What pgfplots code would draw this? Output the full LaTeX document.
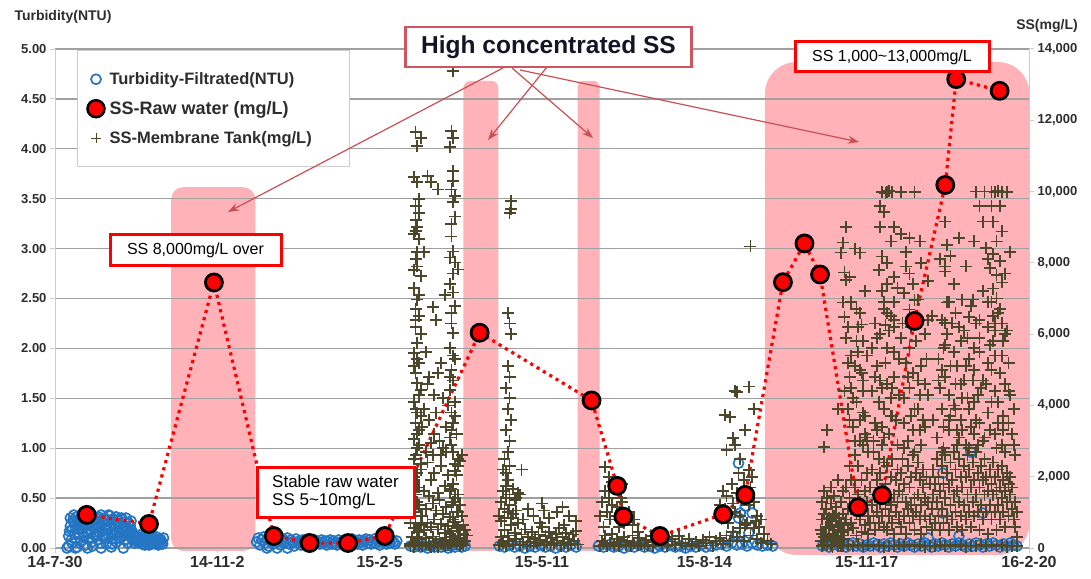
\documentclass[border=0pt]{standalone}
\usepackage{fontspec}
\setmainfont{Liberation Sans}
\usepackage{pgfplots}
\pgfplotsset{compat=1.18}
\usetikzlibrary{arrows.meta}
\definecolor{pinkc}{RGB}{255,178,183}
\definecolor{gridc}{RGB}{160,160,160}
\definecolor{axisc}{RGB}{205,205,205}
\definecolor{tickc}{RGB}{45,45,45}
\definecolor{bluec}{RGB}{36,118,196}
\definecolor{olivec}{RGB}{76,70,42}
\definecolor{boxpink}{RGB}{205,85,95}
\definecolor{arrowc}{RGB}{200,80,85}
\definecolor{navyc}{RGB}{20,20,40}
\pgfplotsset{
  base/.style={at={(55pt,30pt)}, anchor=south west, scale only axis,
    width=974pt, height=499pt, xmin=0, xmax=570, clip=false},
  plusstyle/.style={only marks, mark=+, mark size=6pt, olivec, mark options={line width=1.8pt}},
}
\begin{document}
\begin{tikzpicture}
% ---------- highlight bands ----------
\begin{axis}[base, ymin=0, ymax=5, hide axis]
\fill[pinkc, rounded corners=12pt] (axis cs:68,-0.03) rectangle (axis cs:117.2,3.615);
\fill[pinkc, rounded corners=7pt] (axis cs:239,-0.03) rectangle (axis cs:259.5,4.68);
\fill[pinkc, rounded corners=6pt] (axis cs:305.8,-0.03) rectangle (axis cs:318.7,4.68);
\fill[pinkc, rounded corners=32pt] (axis cs:415.4,-0.07) rectangle (axis cs:570.3,4.87);
\end{axis}
% ---------- turbidity (left axis) ----------
\begin{axis}[base, ymin=0, ymax=5,
  axis x line*=bottom, axis y line*=left,
  x axis line style={draw=gridc, line width=1.3pt},
  y axis line style={draw=axisc, line width=1pt},
  tick align=outside, major tick length=5pt, tick style={draw=axisc, line width=1pt},
  ymajorgrids, grid style={draw=gridc, line width=1.3pt},
  xtick={0,95,190,285,380,475,570},
  xticklabels={14-7-30,14-11-2,15-2-5,15-5-11,15-8-14,15-11-17,16-2-20},
  x tick label style={font=\fontsize{16}{16}\selectfont\bfseries, text=tickc},
  ytick={0,0.5,1,1.5,2,2.5,3,3.5,4,4.5,5},
  y tick label style={font=\fontsize{13}{13}\selectfont\bfseries, text=tickc,
    /pgf/number format/.cd, fixed, fixed zerofill, precision=2, assume math mode=true},
  legend style={at={(0.0226,0.998)}, anchor=north west, draw=axisc, line width=1pt,
    fill=white, inner xsep=10pt, inner ysep=20pt, row sep=11.5pt,
    font=\bfseries\fontsize{16.5}{16.5}\selectfont, text=tickc,
    /tikz/every odd column/.style={column sep=3pt}},
  legend cell align=left,
  legend image code/.code={\draw[#1] plot coordinates {(0pt,0pt)};},
]
\addplot[only marks, mark=o, mark size=5pt, bluec, mark options={line width=1.7pt}] coordinates {
(7,0.0)(12,0.0)(19,0.0)(27,0.0)(33,0.01)(40,0.0)
(8,0.02)(8,0.12)(9,0.22)(9,0.30)(10,0.05)(10,0.18)(11,0.26)(11,0.33)(12,0.10)(12,0.20)
(13,0.28)(13,0.01)(14,0.15)(14,0.24)(15,0.31)(15,0.07)(16,0.19)(16,0.27)(17,0.12)(17,0.34)
(18,0.22)(18,0.03)(19,0.29)(19,0.16)(20,0.25)(20,0.09)(21,0.32)(21,0.18)(22,0.21)(22,0.02)
(23,0.28)(23,0.13)(24,0.24)(24,0.30)(25,0.08)(25,0.20)(26,0.27)(26,0.15)(27,0.33)(27,0.22)
(28,0.11)(28,0.26)(29,0.19)(29,0.30)(30,0.04)(30,0.23)(31,0.28)(31,0.14)(32,0.21)(32,0.32)
(33,0.09)(33,0.25)(34,0.18)(34,0.29)(35,0.13)(35,0.23)(36,0.31)(36,0.06)(37,0.20)(37,0.27)
(38,0.15)(38,0.24)(39,0.30)(39,0.11)(40,0.22)(40,0.18)(41,0.26)(41,0.08)(42,0.21)(42,0.14)
(43,0.25)(43,0.19)(44,0.12)(44,0.22)(45,0.17)(45,0.09)(46,0.13)(47,0.07)(48,0.11)(49,0.05)
(50,0.09)(51,0.04)(52,0.12)(53,0.06)(54,0.10)(55,0.03)(56,0.08)(57,0.05)(58,0.10)(59,0.04)
(60,0.07)(61,0.05)(62,0.08)(63,0.04)
(8.5,0.17)(9.5,0.08)(10.5,0.28)(11.5,0.14)(12.5,0.31)(13.5,0.19)(14.5,0.05)(15.5,0.22)(16.5,0.11)(17.5,0.26)
(18.5,0.15)(19.5,0.33)(20.5,0.18)(21.5,0.06)(22.5,0.27)(23.5,0.20)(24.5,0.12)(25.5,0.31)(26.5,0.05)(27.5,0.17)
(28.5,0.29)(29.5,0.10)(30.5,0.19)(31.5,0.33)(32.5,0.15)(33.5,0.04)(34.5,0.24)(35.5,0.31)(36.5,0.16)(37.5,0.10)
(38.5,0.29)(39.5,0.20)(40.5,0.13)(41.5,0.30)(42.5,0.05)(43.5,0.15)(44.5,0.27)(45.5,0.14)(46.5,0.05)(47.5,0.12)
(48.5,0.08)(49.5,0.13)(50.5,0.06)(51.5,0.10)(52.5,0.03)(53.5,0.11)(54.5,0.07)(55.5,0.12)(56.5,0.04)(57.5,0.09)
(58.5,0.06)(59.5,0.11)(60.5,0.03)(61.5,0.09)(62.5,0.06)(63.5,0.10)
(124,0.0)(130,0.0)(136,0.0)
(118,0.06)(119,0.10)(120,0.03)(121,0.08)(122,0.11)(123,0.05)(124,0.09)(125,0.02)(126,0.07)(127,0.10)
(128,0.04)(129,0.08)(130,0.06)(131,0.11)(132,0.03)(133,0.09)(134,0.05)(135,0.07)(136,0.10)(137,0.04)
(138,0.08)(139,0.06)(140,0.02)(141,0.09)(142,0.05)(143,0.07)(144,0.03)(145,0.08)(146,0.06)(147,0.04)
(148,0.09)(149,0.05)(150,0.07)(151,0.03)(152,0.08)(153,0.05)(154,0.06)(155,0.04)(156,0.08)(157,0.05)
(158,0.07)(159,0.03)(160,0.06)(161,0.08)(162,0.04)(163,0.07)(164,0.05)(165,0.03)(166,0.08)(167,0.06)
(168,0.04)(169,0.07)(170,0.05)(171,0.08)(172,0.03)(173,0.06)(174,0.09)(175,0.05)(176,0.07)(177,0.04)
(178,0.08)(179,0.06)(180,0.03)(181,0.07)(182,0.09)(183,0.05)(184,0.08)(185,0.04)(186,0.06)(187,0.09)
(188,0.05)(189,0.07)(190,0.03)(191,0.08)(192,0.06)(193,0.10)(194,0.04)(195,0.07)(196,0.05)(197,0.08)
(198,0.06)(199,0.04)(200,0.07)
(208,0.02)(210,0.01)(212,0.03)(214,0.01)(216,0.02)(218,0.0)(220,0.02)(222,0.01)(224,0.03)(226,0.01)
(228,0.02)(230,0.0)(232,0.02)(234,0.01)(236,0.03)(238,0.01)(240,0.02)
(260,0.02)(263,0.01)(266,0.03)(269,0.01)(272,0.02)(275,0.0)(278,0.02)(281,0.01)(284,0.03)(287,0.01)
(290,0.02)(293,0.0)(296,0.02)(299,0.01)(302,0.03)(305,0.01)
(318,0.02)(321,0.01)(324,0.03)(327,0.01)(330,0.02)(333,0.0)(336,0.02)(339,0.01)(342,0.03)(345,0.01)
(348,0.02)(351,0.0)(354,0.02)(357,0.01)(360,0.03)(363,0.01)(366,0.02)(369,0.0)(372,0.02)(375,0.01)
(378,0.03)(381,0.01)(384,0.02)(387,0.03)(390,0.04)(393,0.02)(396,0.05)(399,0.03)(402,0.04)(405,0.02)
(408,0.05)(411,0.03)(414,0.02)(417,0.03)(420,0.02)
(400,0.85)(401,0.35)(408,0.35)(400,0.30)(404,0.42)(398,0.12)(406,0.15)
(449,0.02)(451,0.04)(453,0.01)(455,0.03)(457,0.05)(459,0.02)(461,0.04)(463,0.01)(465,0.03)(467,0.05)
(469,0.02)(471,0.04)(473,0.01)(475,0.03)(477,0.02)(479,0.05)(481,0.03)(483,0.01)(485,0.04)(487,0.02)
(489,0.05)(491,0.03)(493,0.01)(495,0.04)(497,0.02)(499,0.05)(501,0.03)(503,0.01)(505,0.04)(507,0.02)
(509,0.05)(511,0.03)(513,0.01)(515,0.04)(517,0.02)(519,0.05)(521,0.03)(523,0.01)(525,0.04)(527,0.02)
(529,0.05)(531,0.03)(533,0.01)(535,0.04)(537,0.02)(539,0.05)(541,0.03)(543,0.01)(545,0.04)(547,0.02)
(549,0.05)(551,0.03)(553,0.01)(555,0.04)(557,0.02)(559,0.05)(561,0.03)(563,0.02)
(519.6,0.75)(536,0.96)(519.6,0.35)(543,0.35)(529,0.12)(511,0.10)
};
\addlegendentry{\makebox[228pt][l]{Turbidity-Filtrated(NTU)}}
\addlegendimage{only marks, mark=*, mark size=8.5pt, mark options={fill=red, draw=black, line width=2.5pt}}
\addlegendentry{\makebox[228pt][l]{\fontsize{18}{18}\selectfont SS-Raw water (mg/L)}}
\addlegendimage{only marks, mark=+, mark size=5pt, olivec, mark options={line width=1pt}}
\addlegendentry{\makebox[228pt][l]{SS-Membrane Tank(mg/L)}}
\end{axis}
% ---------- SS (right axis) ----------
\begin{axis}[base, ymin=0, ymax=14000,
  axis x line=none, axis y line*=right,
  y axis line style={draw=axisc, line width=1pt},
  tick align=outside, major tick length=5pt, tick style={draw=axisc, line width=1pt},
  ytick={0,2000,4000,6000,8000,10000,12000,14000}, scaled y ticks=false,
  y tick label style={font=\fontsize{13}{13}\selectfont\bfseries, text=tickc,
    /pgf/number format/.cd, 1000 sep={,}, assume math mode=true},
]
% membrane tank SS: upper points
\addplot[plusstyle] coordinates {
(211,11660)(212,11280)(214,11500)(210,10400)(212,10260)(211,9590)(213,9400)(211,9200)(212,9000)(210,8800)
(213,8660)(211,8100)(212,7900)(214,7620)(210,7300)(212,6970)(211,6700)(213,6500)(211,6200)(212,5760)
(210,5480)(213,5200)(211,4900)(212,4640)(214,4440)(210,4100)(212,3800)(211,3500)(213,3300)(210,3050)
(212,2800)(211,2600)(214,2350)(212,2100)(210,1900)(213,1700)(211,1500)(212,1300)(210,1100)(214,900)
(211,700)(213,500)(212,300)(210,150)
(210,2500)(212,3200)(211,3900)(213,4300)(210,5100)(212,5300)(211,6400)(213,7100)(210,7800)(212,8300)
(211,8900)(213,9800)
(233,13380)(232,11700)(233,11500)(231,11250)(233,10570)(232,10060)(234,9880)(233,9700)(232,8740)(233,8320)
(231,8150)(234,8010)(236,7815)(233,7170)(232,6600)(233,6040)(231,5600)(234,5300)(232,5000)(233,4700)
(231,4440)(234,4100)(232,3800)(233,3500)(235,3200)(232,2900)(233,2700)(236,2500)(234,2350)(237,2450)
(238,2600)(236,2300)(235,2050)(233,1800)(231,1600)(234,1400)(232,1200)(236,1000)(233,800)(235,600)
(231,400)(234,250)
(232,3300)(234,3700)(231,4800)(233,5400)(232,6300)(234,6800)(231,7400)(233,7700)(232,9100)(234,9300)(233,10300)
(218,10430)(220,10260)(224,10060)(221,6770)(223,6400)(217,5500)(219,4800)(216,3900)(222,3200)(226,2600)
(227,2800)(229,3400)(222,4300)(226,5200)(214,6000)(228,7100)(216,8300)
(213,2900)(215,3400)(217,2700)(219,3600)(221,2600)(223,3800)(225,3000)(227,4200)(229,2700)(231,3100)
(218,4600)(224,4900)(230,4000)(214,3700)(220,2950)
(267,9730)(267,9500)(266,9400)(265,6600)(266,6300)(267,6000)(265,5100)(266,4800)(264,4500)(266,4200)
(265,3900)(267,3600)(264,3300)(266,3000)(265,2700)(263,2500)(266,2300)(264,2100)
(322,2280)(324,2000)(326,1850)(331,1400)(332,1800)
(398,4400)(409,3900)(392,3740)(397,3090)(393,2750)(398,2900)(406,2190)(401,2500)(404,3300)
(407,8460)(406,4530)(399,4380)(395,3680)
(463,9000)(461,8570)(460,8290)(471,8290)(462,7730)(463,7530)(461,6890)(462,6490)(472,6270)(471,6600)
(484,9980)(487,10000)(490,10000)(495,9980)(503,9980)(486,9950)(488,10020)(483,9590)(485,9420)(483,9000)
(491,9000)(495,8800)(500,8700)(506,8600)(484,8180)(487,8000)(491,7600)(487,7400)(484,7200)(491,6900)
(485,6700)(489,6500)(486,6250)(491,6210)
(498,7900)(500,7700)(502,7400)(497,7150)(503,6950)(500,6690)
(521,9160)(522,8500)(524,8200)(521,7900)(521,7760)(522,6890)(521,6320)
(539,10000)(544,10000)(548,10000)(550,9980)(554,10000)(557,9980)(552,10020)(541,9590)(548,9590)(553,9590)
(543,9160)(549,9160)(554,8880)(551,8600)(545,8420)(549,8250)(553,8050)(547,7850)(551,7650)(554,7450)
(549,7280)(551,7000)(546,6900)(553,6700)(549,6500)(554,6300)(550,6100)
(537,6970)(531,6970)(535,6490)
(466,6900)(464,6200)(473,5800)(470,5500)(464,5200)(471,5000)(473,4700)(466,4500)(469,4100)(473,3800)
(465,3600)(474,3200)(471,3000)(467,3400)
(485,6900)(491,6400)(483,6000)(487,5600)(481,5100)(491,4800)(484,4500)(489,4200)(485,3900)(480,3500)
(488,3200)(484,2900)
(505,6970)(509,6000)(500,5600)(507,5100)(509,4600)(497,4200)(501,3700)(506,3300)(499,3000)(503,2700)
(523,6900)(519,6400)(529,6200)(521,5700)(526,5500)(519,5000)(530,4600)(523,4300)(527,3900)(519,3900)
(530,3600)(523,3300)(528,2900)(520,2800)
(536,6800)(539,6300)(534,5900)(541,5500)(538,5000)(532,4700)(540,4300)(535,3900)(541,3500)(538,3200)
(533,2900)
(548,6900)(552,6600)(546,6200)(555,5800)(550,5400)(548,5000)(556,4600)(552,4100)(546,3800)(558,3500)
(550,3200)(554,2900)
(452,3300)(458,3900)(462,4400)(468,5100)(475,5400)(478,4400)(481,3300)(487,4600)(490,3700)(494,5300)
(497,3500)(502,4900)(505,3900)(511,4300)(514,3600)(517,4700)(520,5600)(524,3700)(528,5100)(531,4200)
(535,5300)(538,4100)(543,4700)(547,5700)(550,4400)(555,3300)(558,5200)(561,3900)(541,6400)(556,6000)
(527,6600)(513,6500)(495,5900)(480,6300)(469,6700)(450,2840)
(463,5900)(465,4800)(467,4200)(469,5800)(471,3600)(473,4400)(475,3100)(464,3900)(466,5400)(468,3000)
(470,6200)(472,4900)(474,3700)(476,2700)
(478,5600)(480,4800)(482,4100)(484,3400)(486,5200)(488,6100)(490,4500)(492,3600)(494,4300)(479,3000)
(481,5900)(483,4700)(485,3100)(487,6600)(489,3700)(491,5500)(493,2900)
(496,6300)(498,5200)(500,4500)(502,3300)(504,5800)(506,4300)(508,3600)(510,5300)(497,2800)(499,4800)
(501,6200)(503,3900)(505,4700)(507,2900)(509,3400)(511,6400)
(516,3100)(518,4500)(520,3400)(522,6000)(524,5100)(526,4000)(528,3300)(530,5800)(517,5300)(519,2700)
(521,4800)(523,3600)(525,6300)(527,4600)(529,3100)
(531,3300)(533,5100)(535,2800)(537,4700)(539,3600)(541,5900)(543,3000)(532,6100)(534,4200)(536,3400)
(538,5600)(540,2900)(542,4500)
(545,4600)(547,3300)(549,5800)(551,2800)(553,4900)(555,3700)(557,6100)(559,4300)(561,2900)(544,3100)
(546,5200)(548,4100)(550,6300)(552,3500)(554,5400)(556,2700)(558,4400)(560,3200)(562,2600)
(465,7600)(468,8400)(474,7200)(482,7800)(489,8600)(493,7300)(498,8300)(507,8000)(511,7500)(518,8100)
(526,7400)(529,8700)(533,7900)(538,8600)(543,7200)(546,8100)(556,7700)(559,8300)
};
% membrane tank SS: dense lower points
\addplot[plusstyle] coordinates {
(208,120)(208,700)(209,300)(209,1300)(210,550)(210,2000)(211,100)(211,1000)(212,450)(212,1700)
(213,250)(213,1200)(214,650)(214,2200)(215,150)(215,900)(216,500)(216,1600)(217,280)(217,1100)
(218,700)(218,2400)(219,90)(219,1450)(220,600)(220,1900)(221,320)(221,1250)(222,800)(222,2100)
(223,180)(223,1050)(224,520)(224,1550)(225,260)(225,1350)(226,680)(226,2300)(227,130)(227,950)
(228,430)(228,1750)(229,240)(229,1150)(230,620)(230,2050)(231,150)(231,880)(232,480)(232,1650)
(233,300)(233,1300)(234,720)(234,2150)(235,190)(235,1000)(236,560)(236,1500)(237,350)(237,1200)
(238,150)(238,900)(239,400)(239,650)(240,200)(241,350)(240,500)
(208,60)(210,40)(213,90)(215,50)(217,120)(220,30)(222,70)(224,40)(226,150)(228,60)
(230,90)(232,40)(235,110)(237,50)(239,80)
(260,80)(261,300)(262,150)(263,500)(264,60)(265,350)(266,200)(267,650)(268,100)(269,420)
(270,250)(271,700)(272,90)(273,380)(274,180)(275,520)(276,70)(277,300)(278,160)(279,450)
(280,60)(281,250)(282,130)(283,380)(284,220)(285,600)(286,90)(287,330)(288,170)(289,460)
(290,80)(291,280)(292,140)(293,400)(294,210)(295,550)(296,70)(297,300)(298,150)(299,420)
(300,90)(301,260)(302,120)(303,380)(304,200)(305,480)(306,100)
(260,900)(261,1300)(262,1600)(263,1100)(264,1400)(265,1900)(266,1200)(267,850)(268,1650)(269,1350)
(270,1050)(271,1550)(262,2200)(264,1750)(266,1500)(268,950)(270,1400)(261,750)(263,850)(265,1000)
(272,1500)(274,800)(273,2200)(277,1100)(280,900)(285,1250)(286,1050)(289,850)(294,1000)(297,1150)
(301,900)(305,750)(284,700)(298,650)
(319,60)(320,200)(321,100)(322,350)(323,50)(325,150)(326,400)(327,80)(329,250)(330,60)
(331,180)(333,300)(334,90)(335,200)(337,60)(338,350)(339,150)(341,80)(342,280)(343,120)
(345,60)(346,220)(347,90)(349,330)(350,50)(351,160)(353,250)(355,100)(357,300)(358,60)
(359,180)(361,250)(363,90)(365,330)(367,140)(369,60)(371,260)(373,110)(375,180)(377,60)
(379,220)(381,150)(383,300)(385,70)(387,200)(389,280)(391,120)(393,350)(395,200)(397,450)
(399,300)(401,550)(403,200)(405,700)(407,350)(409,550)(411,250)(413,150)(415,400)(417,200)(419,120)
(319,900)(320,1300)(321,600)(322,1600)(323,1000)(324,1400)(325,800)(326,1200)(327,1700)(328,900)
(329,1150)(330,600)(331,850)(332,1300)(333,700)(334,900)(336,1000)(338,650)(339,800)(341,450)
(389,1200)(390,800)(391,1600)(392,1100)(393,1450)(394,700)(395,950)(396,1800)(397,1250)(398,1000)
(399,1550)(400,2100)(401,900)(402,1350)(403,1900)(404,650)(405,1500)(406,1200)(407,1700)(408,2000)
(409,1300)(410,750)(411,900)(412,600)(413,800)
(448,500)(449,800)(449,1300)(450,300)(450,1600)(451,600)(451,1100)(452,200)(452,1400)(453,850)
(453,400)(454,1250)(454,1700)(455,600)(455,950)(456,300)(456,1450)(457,750)(457,1150)(458,450)
(458,1900)(459,850)(459,600)(460,1300)(460,350)(461,950)(461,1600)(462,650)(462,250)
(463,1700)(463,800)(464,1100)(464,500)(465,2300)(465,1400)(466,700)(466,1900)(467,1250)(467,550)
(468,2600)(468,1700)(469,950)(469,350)(470,1500)(470,2300)(471,800)(471,1300)(472,1900)(472,450)
(473,1100)(473,2900)(474,1600)(474,650)(475,2100)(475,1300)(476,900)(476,400)
(477,1700)(477,700)(478,2200)(478,1200)(479,900)(479,2700)(480,1500)(480,500)(481,1900)(481,1000)
(482,2500)(482,700)(483,1300)(483,2100)(484,900)(484,1600)(485,2400)(485,600)(486,1100)(486,1800)
(487,2300)(487,500)(488,1400)(488,900)(489,2000)(489,1200)(490,700)(490,2500)(491,1500)(491,400)
(492,1900)(492,1000)(493,1300)(493,2200)(494,800)(494,1600)
(495,2100)(495,600)(496,1500)(496,2500)(497,900)(497,1800)(498,1300)(498,400)(499,2300)(499,1100)
(500,1700)(500,700)(501,2000)(501,1200)(502,900)(502,2600)(503,1400)(503,500)(504,2100)(504,1000)
(505,1500)(505,2400)(506,800)(506,1900)(507,1200)(507,400)(508,1700)(508,2200)(509,900)(509,1400)
(510,600)(510,2000)(511,1300)(512,800)(512,1800)(513,500)(513,1100)(514,1500)(514,2200)
(515,700)(515,1800)(516,1300)(516,2500)(517,900)(517,2000)(518,1600)(518,500)(519,2300)(519,1100)
(520,1800)(520,700)(521,2600)(521,1400)(522,900)(522,2100)(523,1700)(523,500)(524,2400)(524,1200)
(525,800)(525,1900)(526,2700)(526,1500)(527,1000)(527,2200)(528,1600)(528,600)(529,2500)(529,1300)
(530,900)(530,2000)(531,1700)(531,500)(532,2300)(532,1200)(533,800)(533,2000)
(534,1500)(534,2600)(535,1000)(535,2200)(536,1700)(536,600)(537,2400)(537,1300)(538,900)(538,1900)
(539,1500)(539,2700)(540,1000)(540,2100)(541,1700)(541,500)(542,2300)(542,1200)(543,800)(543,1900)
(544,1500)(544,2500)(545,1000)(545,2000)(546,1600)(546,400)(547,2200)(547,1200)(548,800)(548,1800)
(549,1500)(549,2400)(550,1000)(550,2000)(551,1600)(551,500)(552,2200)(552,1200)(553,800)(553,1700)
(554,1400)(554,2300)(555,1000)(555,1900)(556,1600)(556,600)(557,2100)(557,1300)(558,900)(558,1800)
(559,1500)(559,2000)(560,1100)(560,1700)(561,800)(562,1300)(562,600)(563,1000)(563,300)
(449,60)(452,90)(455,40)(458,70)(461,50)(464,90)(467,60)(470,100)(473,50)(476,80)
(479,60)(482,90)(485,40)(488,70)(491,60)(494,100)(497,50)(500,80)(503,60)(506,90)
(509,40)(512,70)(515,60)(518,100)(521,50)(524,80)(527,60)(530,90)(533,40)(536,70)
(539,60)(542,100)(545,50)(548,80)(551,60)(554,90)(557,40)(560,70)(563,60)
(450,950)(452,800)(454,650)(456,900)(458,500)(460,700)(449,400)(451,300)(453,550)(455,200)
(457,350)(459,150)(461,450)(450,100)(452,180)(454,80)(456,260)(458,120)(460,60)(448,200)
};
% raw water SS
\addplot[red, line width=3.2pt, dash pattern=on 3.2pt off 4.2pt, mark=*, mark size=8.5pt,
  mark options={solid, fill=red, draw=black, line width=2.8pt}] coordinates {
(18.6,930)(55,675)(93,7450)(128,337)(149,140)(171.5,140)(193,337)(248.5,6040)
(314,4140)(329,1743)(332.6,880)(354,337)(391,947)(404,1490)(426,7458)(438.6,8545)
(447.7,7674)(470,1143)(484,1480)(503,6370)(521,10185)(527.4,13155)(552.8,12827)
};
\end{axis}
% ---------- titles ----------
\node[text=tickc, font=\bfseries\fontsize{14}{14}\selectfont] at (63pt,561pt) {Turbidity(NTU)};
\node[text=tickc, font=\bfseries\fontsize{14}{14}\selectfont] at (1047pt,552pt) {SS(mg/L)};
% ---------- arrows ----------
\begin{scope}[draw=arrowc, line width=1.2pt, -{Stealth[length=11pt,width=8pt]}]
\draw (503pt,510pt) -- (228pt,366pt);
\draw (547pt,511pt) -- (488pt,438pt);
\draw (512pt,510pt) -- (593pt,440pt);
\draw (520pt,508pt) -- (859pt,436pt);
\end{scope}
% ---------- boxes ----------
\node[draw=boxpink, line width=2.5pt, fill=white, minimum width=286pt, minimum height=40pt,
  inner sep=0pt, text=navyc, font=\bfseries\fontsize{24.5}{24.5}\selectfont] at (548.5pt,531pt) {High concentrated SS};
\node[draw=red, line width=3pt, fill=white, minimum width=171pt, minimum height=31pt,
  inner sep=0pt, text=black, font=\fontsize{16}{16}\selectfont] at (195.5pt,327.5pt) {SS 8,000mg/L over};
\node[draw=red, line width=3pt, fill=white, minimum width=157pt, minimum height=49pt,
  inner sep=0pt, text=black, font=\fontsize{17}{18}\selectfont, align=left] at (335.5pt,85.5pt)
  {Stable raw water\\SS 5\textasciitilde10mg/L};
\node[draw=red, line width=3pt, fill=white, minimum width=194pt, minimum height=30pt,
  inner sep=0pt, text=black, font=\fontsize{16}{16}\selectfont] at (892pt,521pt) {SS 1,000\textasciitilde13,000mg/L};
\pgfresetboundingbox
\path[use as bounding box] (0,0) rectangle (1091pt,578pt);
\end{tikzpicture}
\end{document}
